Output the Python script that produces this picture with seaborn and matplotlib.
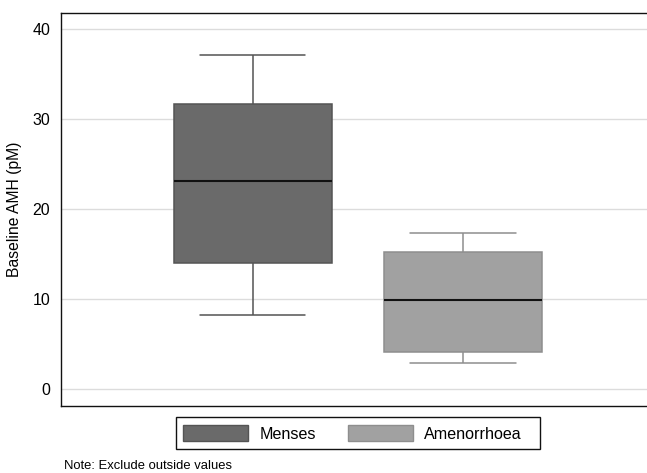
import numpy as np
import pandas as pd
import matplotlib
matplotlib.use("Agg")
import matplotlib.pyplot as plt
from matplotlib.patches import Patch, Rectangle
import seaborn as sns

# Five-number summaries (min, Q1, median, Q3, max)
groups = ["Menses", "Amenorrhoea"]
menses_vals = [8.2, 14.05, 23.1, 31.7, 37.1]
amen_vals = [2.9, 4.15, 9.9, 15.2, 17.4]
yticks = [0, 10, 20, 30, 40]

fills = {"Menses": "#6a6a6a", "Amenorrhoea": "#a1a1a1"}
edges = {"Menses": "#545454", "Amenorrhoea": "#8e8e8e"}

sns.set_style("white")
plt.rcParams["font.family"] = ["Liberation Sans", "DejaVu Sans"]
plt.rcParams["text.color"] = "black"
plt.rcParams["axes.labelcolor"] = "black"
plt.rcParams["ytick.color"] = "black"

W, H = 647, 473
fig = plt.figure(figsize=(W/100, H/100), dpi=100)
ax = fig.add_axes([61/W, 1-406.3/H, 1-61/W, (406.3-12.7)/H])

for g, vals in zip(groups, [menses_vals, amen_vals]):
    df = pd.DataFrame({"group": g, "val": vals})
    sns.boxplot(data=df, x="group", y="val", order=groups, ax=ax,
                color=fills[g], linecolor=edges[g], linewidth=1.1,
                width=0.752, whis=(0, 100), saturation=1,
                capwidths=0.5,
                medianprops=dict(color="#111111", linewidth=1.5),
                showfliers=False)

ax.set_xlim(-0.914, 1.876)
ax.set_ylim(-1.92, 41.86)
ax.set_yticks(yticks)
ax.set_yticklabels([str(t) for t in yticks], fontsize=11.5, color="black")
ax.set_xticks([])
ax.set_xlabel("")
ax.set_ylabel("Baseline AMH (pM)", fontsize=11.3, labelpad=7, color="black")
ax.yaxis.grid(True, color="#dcdcdc", linewidth=1.0)
ax.set_axisbelow(True)
ax.tick_params(axis="y", direction="out", length=5.5, width=1, color="#222222", pad=2.4)
for s in ["left", "bottom", "top"]:
    ax.spines[s].set_color("#111111")
    ax.spines[s].set_linewidth(1.0)
ax.spines["right"].set_visible(False)

# legend frame (Stata-style, drawn separately)
fig.patches.append(Rectangle((176/W, 1-449.3/H), (540-176)/W, (449.3-417.3)/H,
                             transform=fig.transFigure, facecolor="white",
                             edgecolor="#111111", linewidth=1.0, zorder=1))

handles = [Patch(facecolor=fills[g], edgecolor=edges[g], linewidth=1.0) for g in groups]
leg = fig.legend(handles, groups, loc="center left", bbox_to_anchor=(183/W, 1-433.5/H),
                 ncol=2, fontsize=11.6, frameon=False,
                 handlelength=4.06, handleheight=1.06, handletextpad=0.69,
                 columnspacing=1.98, borderpad=0.0, borderaxespad=0.0)
leg.set_zorder(3)

fig.text(64/W, 1-466/H, "Note: Exclude outside values", fontsize=9.4,
         ha="left", va="center")

fig.savefig("out.png", dpi=100)
